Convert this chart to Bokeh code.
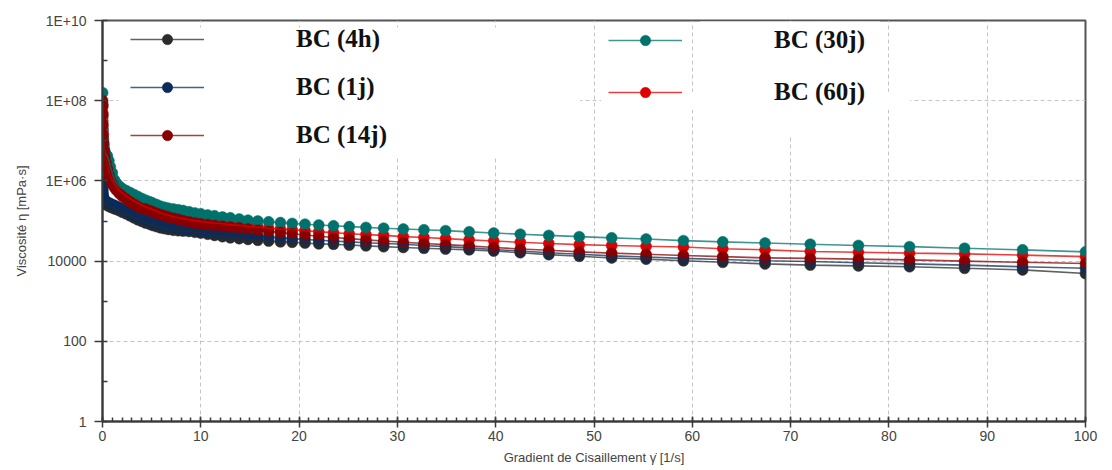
from bokeh.plotting import figure
from bokeh.models import (Range1d, FixedTicker, SingleIntervalTicker, Legend,
                          LegendItem, BoxAnnotation)
from bokeh.embed import file_html
from bokeh.resources import INLINE

# ---------------- data ----------------
shear_rate = [
    0.01, 0.02, 0.03, 0.05, 0.08, 0.12, 0.18, 0.25, 0.35, 0.5,
    0.65, 0.8, 1.0, 1.2, 1.4, 1.7, 2.0, 2.4, 2.8, 3.2,
    3.6, 4.0, 4.4, 4.8, 5.1, 5.5, 5.9, 6.3, 6.7, 7.2,
    7.7, 8.2, 8.8, 9.4, 10.0, 10.7, 11.4, 12.2, 13.0, 13.9,
    14.8, 15.8, 16.9, 18.1, 19.3, 20.6, 22.0, 23.5, 25.1, 26.8,
    28.6, 30.6, 32.7, 34.9, 37.3, 39.8, 42.5, 45.4, 48.5, 51.8,
    55.3, 59.1, 63.1, 67.4, 72.0, 76.9, 82.1, 87.7, 93.6, 100.0,
]

visc_4h = [
    6.31e5, 5.01e5, 4.17e5, 3.55e5, 3.16e5, 2.95e5, 2.82e5, 2.69e5, 2.57e5, 2.45e5,
    2.34e5, 2.24e5, 2.14e5, 2.04e5, 1.95e5, 1.82e5, 1.66e5, 1.51e5, 1.35e5, 1.20e5,
    1.07e5, 9.77e4, 8.91e4, 8.32e4, 7.76e4, 7.24e4, 6.76e4, 6.46e4, 6.17e4, 5.89e4,
    5.75e4, 5.62e4, 5.50e4, 5.25e4, 5.01e4, 4.68e4, 4.37e4, 4.07e4, 3.80e4, 3.63e4,
    3.47e4, 3.31e4, 3.16e4, 3.02e4, 2.95e4, 2.82e4, 2.69e4, 2.63e4, 2.51e4, 2.40e4,
    2.29e4, 2.19e4, 2.09e4, 2.0e4, 1.91e4, 1.78e4, 1.62e4, 1.45e4, 1.32e4, 1.20e4,
    1.12e4, 1.02e4, 9.33e3, 8.51e3, 7.94e3, 7.59e3, 7.24e3, 6.61e3, 6.03e3, 4.90e3,
]

visc_1j = [
    1.0e6, 7.08e5, 5.62e5, 4.57e5, 3.98e5, 3.63e5, 3.39e5, 3.24e5, 3.09e5, 2.95e5,
    2.82e5, 2.69e5, 2.57e5, 2.45e5, 2.34e5, 2.19e5, 2.0e5, 1.78e5, 1.58e5, 1.41e5,
    1.26e5, 1.15e5, 1.05e5, 9.77e4, 9.12e4, 8.51e4, 7.94e4, 7.59e4, 7.24e4, 6.92e4,
    6.61e4, 6.31e4, 6.17e4, 5.89e4, 5.62e4, 5.37e4, 5.13e4, 4.90e4, 4.68e4, 4.47e4,
    4.37e4, 4.17e4, 3.98e4, 3.80e4, 3.63e4, 3.47e4, 3.31e4, 3.16e4, 3.02e4, 2.88e4,
    2.75e4, 2.63e4, 2.45e4, 2.29e4, 2.14e4, 1.95e4, 1.78e4, 1.62e4, 1.48e4, 1.35e4,
    1.26e4, 1.17e4, 1.10e4, 1.02e4, 9.77e3, 9.12e3, 8.51e3, 7.94e3, 7.24e3, 6.61e3,
]

visc_14j = [
    1.0e8, 7.08e7, 4.47e7, 2.51e7, 1.41e7, 8.91e6, 5.62e6, 3.98e6, 2.82e6, 2.0e6,
    1.41e6, 1.05e6, 8.32e5, 6.92e5, 5.89e5, 4.90e5, 4.17e5, 3.55e5, 3.02e5, 2.63e5,
    2.29e5, 2.04e5, 2.0e5, 1.82e5, 1.70e5, 1.55e5, 1.45e5, 1.35e5, 1.26e5, 1.17e5,
    1.10e5, 1.02e5, 9.55e4, 8.91e4, 8.51e4, 8.13e4, 7.76e4, 7.41e4, 7.08e4, 6.76e4,
    6.31e4, 5.89e4, 5.50e4, 5.13e4, 4.79e4, 4.47e4, 4.17e4, 3.89e4, 3.63e4, 3.39e4,
    3.16e4, 2.95e4, 2.75e4, 2.57e4, 2.40e4, 2.19e4, 2.0e4, 1.86e4, 1.70e4, 1.58e4,
    1.48e4, 1.38e4, 1.29e4, 1.20e4, 1.17e4, 1.12e4, 1.07e4, 1.0e4, 9.33e3, 8.71e3,
]

visc_30j = [
    1.58e8, 7.94e7, 3.98e7, 2.0e7, 1.12e7, 7.94e6, 6.31e6, 5.25e6, 4.57e6, 4.17e6,
    3.16e6, 2.24e6, 1.58e6, 1.07e6, 8.91e5, 7.41e5, 6.46e5, 5.75e5, 5.13e5, 4.57e5,
    4.07e5, 3.63e5, 3.31e5, 3.02e5, 2.82e5, 2.57e5, 2.34e5, 2.19e5, 2.09e5, 2.0e5,
    1.91e5, 1.82e5, 1.70e5, 1.58e5, 1.51e5, 1.41e5, 1.35e5, 1.26e5, 1.20e5, 1.12e5,
    1.05e5, 1.0e5, 9.55e4, 9.12e4, 8.71e4, 8.32e4, 7.94e4, 7.59e4, 7.24e4, 6.92e4,
    6.61e4, 6.31e4, 6.03e4, 5.75e4, 5.37e4, 5.01e4, 4.68e4, 4.37e4, 4.07e4, 3.80e4,
    3.55e4, 3.24e4, 3.02e4, 2.82e4, 2.63e4, 2.45e4, 2.29e4, 2.09e4, 1.91e4, 1.70e4,
]

visc_60j = [
    7.94e7, 5.01e7, 3.16e7, 1.78e7, 1.12e7, 7.59e6, 5.25e6, 3.98e6, 3.02e6, 2.29e6,
    1.66e6, 1.26e6, 1.0e6, 8.32e5, 7.08e5, 5.89e5, 5.01e5, 4.27e5, 3.63e5, 3.16e5,
    2.82e5, 2.51e5, 2.24e5, 2.04e5, 1.91e5, 1.74e5, 1.58e5, 1.48e5, 1.38e5, 1.29e5,
    1.20e5, 1.15e5, 1.07e5, 1.02e5, 9.77e4, 9.33e4, 8.91e4, 8.51e4, 8.13e4, 7.76e4,
    7.41e4, 7.08e4, 6.61e4, 6.31e4, 6.03e4, 5.75e4, 5.37e4, 5.13e4, 4.79e4, 4.57e4,
    4.37e4, 4.07e4, 3.89e4, 3.63e4, 3.39e4, 3.16e4, 2.95e4, 2.75e4, 2.57e4, 2.45e4,
    2.34e4, 2.24e4, 2.04e4, 1.91e4, 1.74e4, 1.66e4, 1.58e4, 1.51e4, 1.41e4, 1.29e4,
]

series_labels = ["BC (4h)", "BC (1j)", "BC (14j)", "BC (30j)", "BC (60j)"]
y_tick_values = [1, 100, 10000, 1000000, 100000000, 10000000000]
y_tick_labels = ["1", "100", "10000", "1E+06", "1E+08", "1E+10"]
y_minor_values = [10, 1000, 100000, 10000000, 1000000000]

# ---------------- styles ----------------
colors = {
    "BC (4h)": "#2b2b2b",
    "BC (1j)": "#0b2c5a",
    "BC (14j)": "#880000",
    "BC (30j)": "#00716b",
    "BC (60j)": "#dd0000",
}
data = {
    "BC (4h)": visc_4h,
    "BC (1j)": visc_1j,
    "BC (14j)": visc_14j,
    "BC (30j)": visc_30j,
    "BC (60j)": visc_60j,
}

p = figure(width=1112, height=470, y_axis_type="log",
           x_range=Range1d(0, 100), y_range=Range1d(1, 1e10),
           output_backend="svg", toolbar_location=None,
           min_border_left=102, min_border_right=27,
           min_border_top=20, min_border_bottom=49)

p.background_fill_color = "white"
p.border_fill_color = "white"
p.outline_line_color = "#555555"
p.outline_line_width = 2

# axes
p.xaxis.ticker = SingleIntervalTicker(interval=10, num_minor_ticks=10)
p.yaxis.ticker = FixedTicker(ticks=y_tick_values, minor_ticks=y_minor_values)
p.yaxis.major_label_overrides = {v: s for v, s in zip(y_tick_values, y_tick_labels)}

for ax in (p.xaxis[0], p.yaxis[0]):
    ax.axis_line_color = "#3a3a3a"
    ax.axis_line_width = 2
    ax.major_tick_line_color = "#3a3a3a"
    ax.major_tick_line_width = 1.5
    ax.minor_tick_line_color = "#3a3a3a"
    ax.minor_tick_line_width = 1.5
    ax.major_label_text_font = "Liberation Sans"
    ax.major_label_text_font_size = "14px"
    ax.major_label_text_color = "#444444"
    ax.axis_label_text_font = "Liberation Sans"
    ax.axis_label_text_font_size = "13px"
    ax.axis_label_text_font_style = "normal"
    ax.axis_label_text_color = "#444444"

p.yaxis.major_tick_in = 5
p.yaxis.major_tick_out = 8
p.yaxis.minor_tick_in = 5
p.yaxis.minor_tick_out = 0
p.yaxis.major_label_standoff = 8
p.yaxis.axis_label = "Viscosité η [mPa·s]"
p.yaxis.axis_label_standoff = 14

p.xaxis.major_tick_in = 5
p.xaxis.major_tick_out = 6
p.xaxis.minor_tick_in = 4
p.xaxis.minor_tick_out = 0
p.xaxis.major_label_standoff = 3
p.xaxis.axis_label = "Gradient de Cisaillement γ̇ [1/s]"
p.xaxis.axis_label_standoff = 6

# grids
for g in (p.xgrid[0], p.ygrid[0]):
    g.grid_line_color = "#c4c4c4"
    g.grid_line_dash = "4 3"
    g.grid_line_width = 1

# white patches that hide parts of the grid behind the legend text
for l, r, b, t in [(1.63, 48.6, 3.76e6, 6.7e9),
                   (50.7, 82.2, 5.96e7, 1.68e8),
                   (60.8, 79.1, 1.41e7, 9.4e9)]:
    p.add_layout(BoxAnnotation(left=l, right=r, bottom=b, top=t,
                               fill_color="white", fill_alpha=1.0,
                               line_color=None, level="underlay"))

# markers (draw order chosen to match overlap in the picture)
order = ["BC (4h)", "BC (1j)", "BC (60j)", "BC (30j)", "BC (14j)"]
scat = {}
for name in order:
    scat[name] = p.scatter(shear_rate, data[name], size=11, marker="circle",
                           fill_color=colors[name], line_color=colors[name],
                           line_width=0.5)
lines = {}
for name in order:
    lines[name] = p.line(shear_rate, data[name], line_color=colors[name],
                         line_width=1.6, line_alpha=0.75)

leg_items = {name: LegendItem(label=name, renderers=[lines[name], scat[name]])
             for name in series_labels}


def make_legend(names, loc, spacing):
    lg = Legend(items=[leg_items[n] for n in names], location=loc)
    lg.border_line_color = None
    lg.background_fill_alpha = 0
    lg.glyph_width = 74
    lg.glyph_height = 26
    lg.label_height = 26
    lg.spacing = spacing
    lg.label_standoff = 92
    lg.padding = 0
    lg.margin = 0
    lg.label_text_font = "Liberation Serif"
    lg.label_text_font_style = "bold"
    lg.label_text_font_size = "25px"
    lg.label_text_color = "#111111"
    return lg


p.add_layout(make_legend(["BC (4h)", "BC (1j)", "BC (14j)"], (28, 272), 20))
p.add_layout(make_legend(["BC (30j)", "BC (60j)"], (506, 315), 24))

open("out.html", "w").write(file_html(p, INLINE))
